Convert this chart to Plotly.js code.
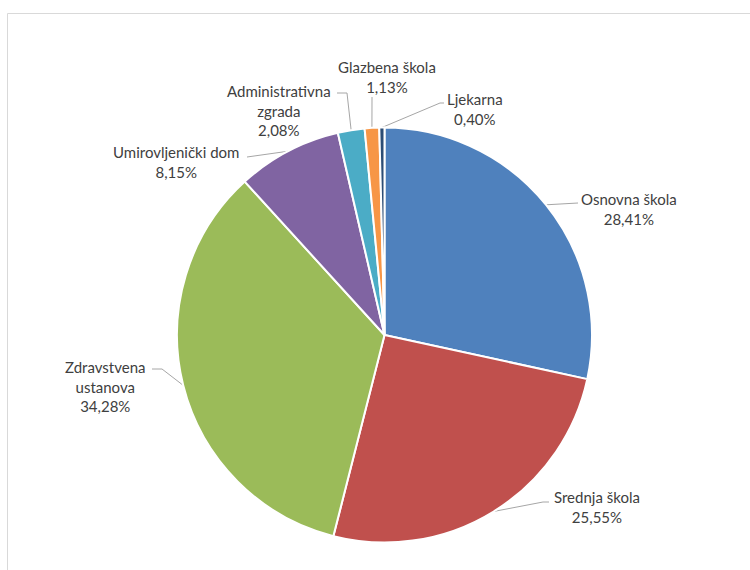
<!DOCTYPE html>
<html>
<head>
<meta charset="utf-8">
<script src="https://cdn.plot.ly/plotly-3.0.1.min.js"></script>
<style>html,body{margin:0;padding:0;background:#fff;}#chart{width:750px;height:570px;}</style>
</head>
<body>
<div id="chart"></div>
<script>
// ---- data ----
var categories = ["Osnovna škola", "Srednja škola", "Zdravstvena ustanova", "Umirovljenički dom", "Administrativna zgrada", "Glazbena škola", "Ljekarna"];
var labelLines = ["Osnovna škola", "Srednja škola", "Zdravstvena<br>ustanova", "Umirovljenički dom", "Administrativna<br>zgrada", "Glazbena škola", "Ljekarna"];
var shares = [28.41, 25.55, 34.28, 8.15, 2.08, 1.13, 0.40];
var colors = ["#4F81BD", "#C0504D", "#9BBB59", "#8064A2", "#4BACC6", "#F79646", "#2C4D75"];

// ---- layout constants (pixels) ----
var W = 750, H = 570;
var cx = 384.5, cy = 335, R = 207.5;
// label centres and leader elbow points (layout, pixels)
var labelPos = [[629, 209], [597, 507], [105, 386], [176, 162], [279, 110], [387, 77], [475, 109]];
var elbows = [
  [[578, 203]],
  [[543, 502], [549, 502]],
  [[162, 369], [152, 369]],
  [[247, 157]],
  [[347, 93], [337, 93]],
  [[372, 97]],
  [[440, 103], [444, 103]]
];

var total = shares.reduce(function (a, b) { return a + b; }, 0);
var traces = [{
  type: "pie",
  labels: categories,
  values: shares,
  sort: false,
  direction: "clockwise",
  rotation: 0,
  textinfo: "none",
  hoverinfo: "label+percent",
  marker: { colors: colors, line: { color: "#FFFFFF", width: 2 } },
  domain: { x: [(cx - R) / W, (cx + R) / W], y: [(H - cy - R) / H, (H - cy + R) / H] },
  showlegend: false
}];

var annotations = [];
var cum = 0;
for (var i = 0; i < shares.length; i++) {
  var mid = (cum + shares[i] / 2) / total * 2 * Math.PI;
  cum += shares[i];
  var ex = cx + R * Math.sin(mid), ey = cy - R * Math.cos(mid);
  var xs = [ex], ys = [ey];
  elbows[i].forEach(function (p) { xs.push(p[0]); ys.push(p[1]); });
  traces.push({
    type: "scatter", mode: "lines", x: xs, y: ys,
    line: { color: "#A6A6A6", width: 1 }, hoverinfo: "skip", showlegend: false,
    xaxis: "x", yaxis: "y"
  });
  annotations.push({
    x: labelPos[i][0], y: labelPos[i][1], xref: "x", yref: "y",
    text: labelLines[i] + "<br>" + shares[i].toFixed(2).replace(".", ",") + "%",
    showarrow: false, xanchor: "center", yanchor: "middle", align: "center",
    font: { family: "Lato, 'Open Sans', sans-serif", size: 15, color: "#404040" }
  });
}

var layout = {
  width: W, height: H,
  margin: { l: 0, r: 0, t: 0, b: 0 },
  paper_bgcolor: "#FFFFFF", plot_bgcolor: "rgba(0,0,0,0)",
  xaxis: { range: [0, W], visible: false, fixedrange: true, domain: [0, 1] },
  yaxis: { range: [H, 0], visible: false, fixedrange: true, domain: [0, 1] },
  annotations: annotations,
  shapes: [{
    type: "rect", xref: "paper", yref: "paper",
    x0: 7.5 / W, x1: 1.02, y0: -0.02, y1: 1 - 13.5 / H,
    line: { color: "#D9D9D9", width: 1 }, fillcolor: "rgba(0,0,0,0)", layer: "below"
  }]
};

Plotly.newPlot("chart", traces, layout, { displayModeBar: false, staticPlot: true });
</script>
</body>
</html>
